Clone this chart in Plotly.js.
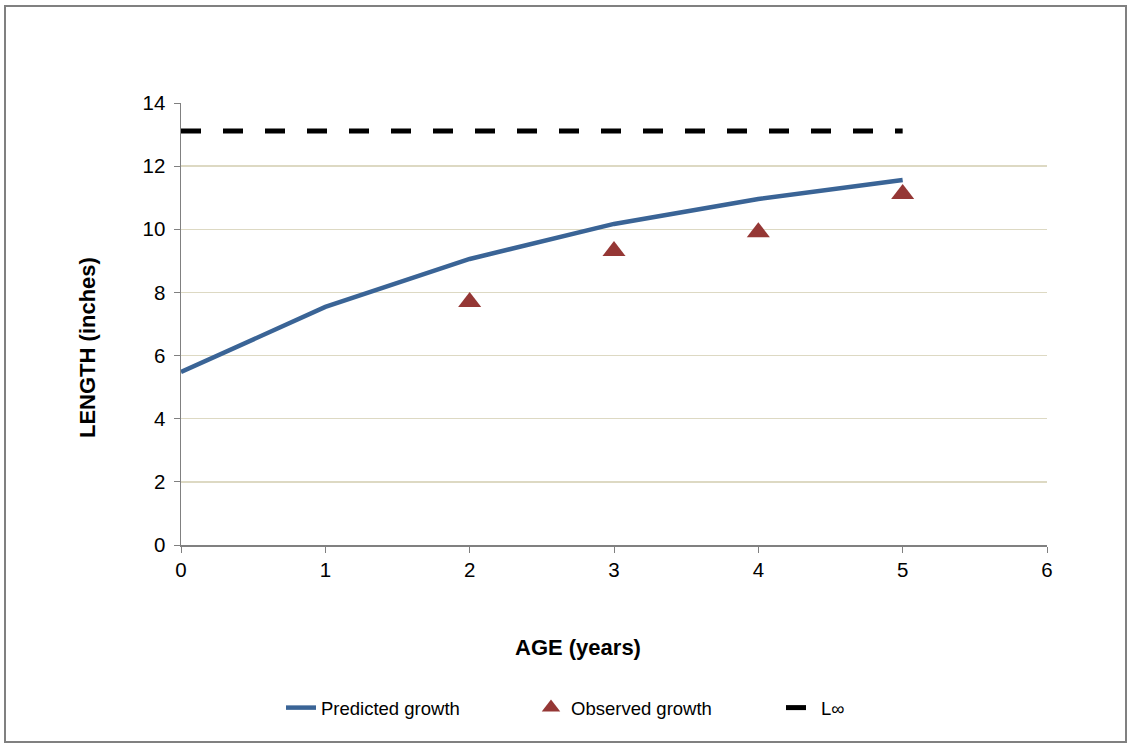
<!DOCTYPE html>
<html><head><meta charset="utf-8">
<script src="https://cdn.plot.ly/plotly-3.0.1.min.js"></script>
<style>
body{margin:0;padding:0;background:#fff;}
#wrap{position:relative;width:1127px;height:743px;}
#chart{width:1127px;height:743px;}
#frame{position:absolute;left:4px;top:5px;width:1119px;height:734px;border:2px solid #808080;pointer-events:none;}
</style>
</head><body>
<div id="wrap"><div id="chart"></div><div id="frame"></div></div>
<script>
const ages = [0, 1, 2, 3, 4, 5];
const predicted = [5.48, 7.54, 9.06, 10.17, 10.96, 11.56];
const obsAges = [2, 3, 4, 5];
const observed = [7.70, 9.31, 9.91, 11.12];
const linfAges = [0, 5];
const linf = [13.11, 13.11];
const xTicks = [0, 1, 2, 3, 4, 5, 6];
const yTicks = [0, 2, 4, 6, 8, 10, 12, 14];
const xTitle = 'AGE (years)';
const yTitle = 'LENGTH (inches)';

const traces = [
  {x: ages, y: predicted, mode: 'lines', name: 'Predicted growth',
   line: {color: '#3a6496', width: 4.5}},
  {x: obsAges, y: observed, mode: 'markers', name: 'Observed growth',
   marker: {symbol: 'triangle-up', size: 20, color: '#953735'}},
  {x: linfAges, y: linf, mode: 'lines', name: 'L∞',
   line: {color: '#000000', width: 5, dash: '20px,22px'}}
];

const font = {family: '"Liberation Sans", Arial, sans-serif', color: '#000'};
const layout = {
  width: 1127, height: 743,
  margin: {l: 181, r: 80, t: 103, b: 198},
  paper_bgcolor: '#fff', plot_bgcolor: '#fff',
  font: Object.assign({size: 20}, font),
  showlegend: true,
  xaxis: {
    range: [0, 6], tickvals: xTicks, ticktext: xTicks.map(String),
    showgrid: false, zeroline: false, showline: true, linecolor: '#808080', linewidth: 1.5,
    ticks: 'outside', ticklen: 6, tickcolor: '#808080',
    tickfont: {size: 20.5}
  },
  yaxis: {
    range: [0, 14], tickvals: yTicks, ticktext: yTicks.map(String),
    showgrid: true, gridcolor: '#ddd9c3', gridwidth: 1.5,
    zeroline: false, showline: true, linecolor: '#808080', linewidth: 1.5,
    ticks: 'outside', ticklen: 6, tickcolor: '#808080',
    tickfont: {size: 20.5}, ticklabelstandoff: 4
  },
  annotations: [
    {text: '<b>' + xTitle + '</b>', xref: 'paper', yref: 'paper',
     x: (578 - 181) / 866, y: -(647 - 545) / 442, xanchor: 'center', yanchor: 'middle',
     showarrow: false, font: {size: 22}},
    {text: '<b>' + yTitle + '</b>', xref: 'paper', yref: 'paper',
     x: -(181 - 87) / 866, y: (545 - 348) / 442, xanchor: 'center', yanchor: 'middle',
     textangle: -90, showarrow: false, font: {size: 22}}
  ],
  legend: {
    orientation: 'h', xref: 'container', yref: 'container',
    x: 281 / 1127, xanchor: 'left', y: 0.047, yanchor: 'middle',
    font: {size: 18.5}, entrywidth: 205, entrywidthmode: 'pixels'
  }
};
Plotly.newPlot('chart', traces, layout, {displayModeBar: false, staticPlot: true});
</script>
</body></html>
